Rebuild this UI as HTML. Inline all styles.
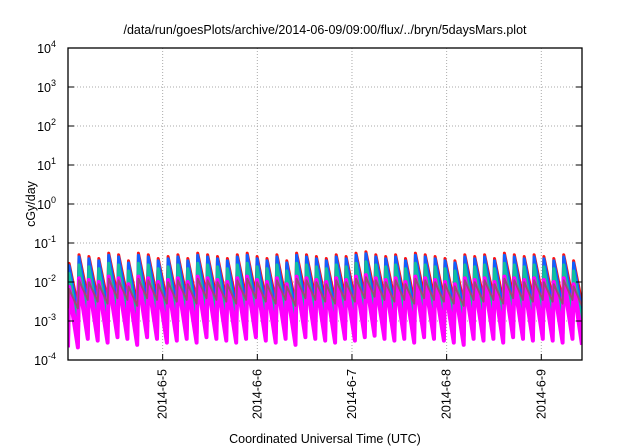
<!DOCTYPE html>
<html><head><meta charset="utf-8">
<style>
body{margin:0;background:#fff;}
svg{display:block;font-family:"Liberation Sans",sans-serif;}
</style></head>
<body>
<svg id="chart" width="640" height="448" viewBox="0 0 640 448">
<rect width="640" height="448" fill="#fff"/>
<text x="325" y="34" text-anchor="middle" font-size="12.5" fill="#000">/data/run/goesPlots/archive/2014-06-09/09:00/flux/../bryn/5daysMars.plot</text>
<g id="grid"></g>
<g id="series"></g>
<rect x="68" y="48" width="514" height="312" fill="none" stroke="#000" stroke-width="1.3"/>
<g id="axes"></g>
<text x="325" y="443" text-anchor="middle" font-size="12.5">Coordinated Universal Time (UTC)</text>
<text transform="translate(35,204) rotate(-90)" text-anchor="middle" font-size="12.5">cGy/day</text>
</svg>
<script>
const yExponents=[-4,-3,-2,-1,0,1,2,3,4];
const xTickLabels=["2014-6-5","2014-6-6","2014-6-7","2014-6-8","2014-6-9"];
const xTickDays=[1,2,3,4,5];
const xMaxDays=5.43;
// peak value of top (red) series for each cycle
const redPeaks=[0.03,0.05,0.045,0.04,0.055,0.05,0.035,0.055,0.05,0.04,0.045,0.05,0.04,0.055,0.05,0.045,0.04,0.05,0.055,0.045,0.04,0.05,0.035,0.055,0.05,0.045,0.04,0.05,0.045,0.055,0.06,0.05,0.045,0.05,0.04,0.055,0.05,0.045,0.04,0.035,0.05,0.045,0.05,0.04,0.055,0.05,0.045,0.05,0.045,0.04,0.05,0.035];
const cycleDays=0.1045;
const seriesNames=["red","blue","teal","magenta-low","magenta","brown"];
const seriesColors=["#ff1010","#1060ff","#10c0a0","#ff00ff","#ff00ff","#a04878"];
const peakScale=[1.0,0.88,0.55,0.2,0.25,0.22];
const troughScale=[0.08,0.05,0.025,0.007,0.012,0.07];
const widths=[3,3,3,4,4,2];

const svg=document.getElementById('chart');
const NS="http://www.w3.org/2000/svg";
const L=68,R=582,T=48,B=360;
function xs(d){return L+(d/xMaxDays)*(R-L);}
function ys(v){return B-(Math.log10(v)+4)/8*(B-T);}
function mk(tag,attrs,parent){const e=document.createElementNS(NS,tag);for(const k in attrs)e.setAttribute(k,attrs[k]);parent.appendChild(e);return e;}
const grid=document.getElementById('grid'),axes=document.getElementById('axes'),sg=document.getElementById('series');
yExponents.forEach(ex=>{
  const y=ys(Math.pow(10,ex));
  if(ex>-4&&ex<4){const g=mk('line',{x1:L,x2:R,y1:y,y2:y,stroke:'#aaa','stroke-dasharray':'1,2','stroke-width':1},grid);
  
  }
  const t=mk('line',{x1:L,x2:L+6,y1:y,y2:y,stroke:'#000'},axes);
  
  
  const t2=mk('line',{x1:R-6,x2:R,y1:y,y2:y,stroke:'#000'},axes);
  
  
  const lab=mk('text',{x:56,y:y+5,'text-anchor':'end','font-size':12.5},axes);
  lab.textContent='10';
  const sup=mk('tspan',{dy:-6,'font-size':9},lab);sup.textContent=String(ex);
  
  
});
xTickDays.forEach((d,i)=>{
  const x=xs(d);
  const g=mk('line',{x1:x,x2:x,y1:T,y2:B,stroke:'#aaa','stroke-dasharray':'1,2'},grid);
  
  
  const t=mk('line',{x1:x,x2:x,y1:B-6,y2:B,stroke:'#000'},axes);
  
  
  const lab=mk('text',{transform:`translate(${x+4},${B+9}) rotate(-90)`,'text-anchor':'end','font-size':12.5},axes);
  lab.textContent=xTickLabels[i];
  
  
});
seriesNames.forEach((nm,si)=>{
  let pts=[];
  redPeaks.forEach((p,c)=>{
    const t0=c*cycleDays;
    const prev=redPeaks[c-1]||p;
    pts.push([t0,prev*troughScale[si]]);
    pts.push([t0+0.012,p*peakScale[si]]);
  });
  pts.push([redPeaks.length*cycleDays,redPeaks[redPeaks.length-1]*troughScale[si]]);
  const d=pts.filter(q=>q[0]<=xMaxDays+0.2).map(q=>xs(Math.min(q[0],xMaxDays)).toFixed(1)+','+ys(q[1]).toFixed(1)).join(' ');
  const pl=mk('polyline',{points:d,fill:'none',stroke:seriesColors[si],'stroke-width':widths[si],'stroke-linejoin':'round'},sg);
  
  
});
const cp=mk('clipPath',{id:'clip'},svg);mk('rect',{x:L,y:T,width:R-L,height:B-T},cp);
sg.setAttribute('clip-path','url(#clip)');
</script>
</body></html>
